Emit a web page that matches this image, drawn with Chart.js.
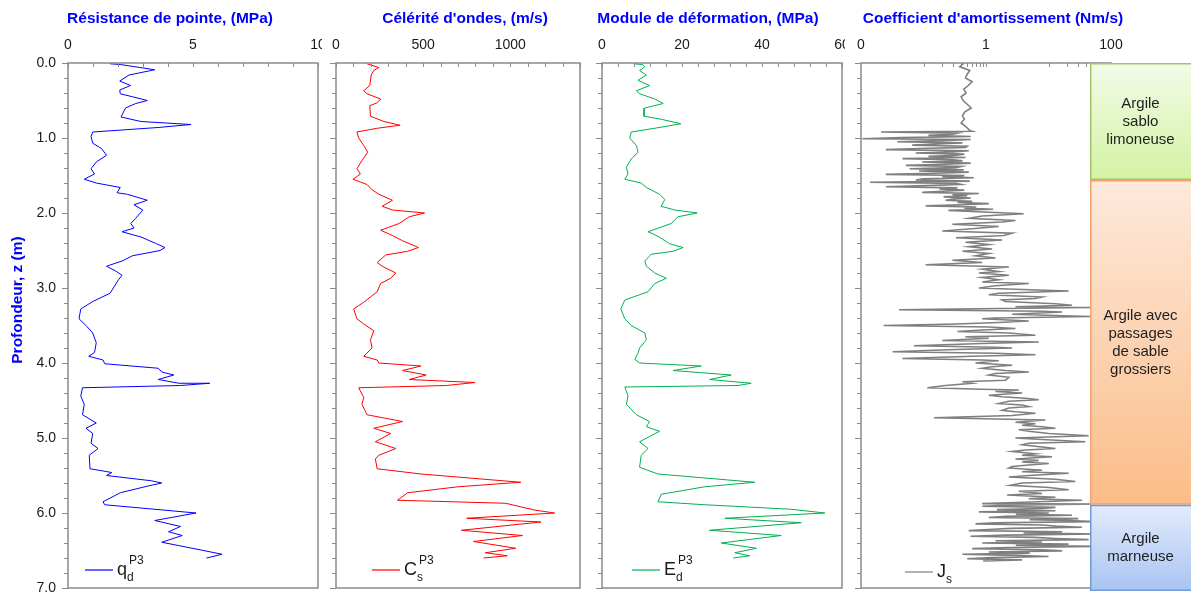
<!DOCTYPE html>
<html>
<head>
<meta charset="utf-8">
<script src="https://cdn.jsdelivr.net/npm/chart.js@4.4.0/dist/chart.umd.min.js"></script>
<style>
  body { margin: 0; background: #fff; width: 1191px; height: 595px; position: relative; overflow: hidden; }
  canvas { position: absolute; top: 0; }
</style>
</head>
<body>
<canvas id="c1" style="left:0px" width="322" height="595"></canvas>
<canvas id="c2" style="left:325px" width="258" height="595"></canvas>
<canvas id="c3" style="left:588px" width="257" height="595"></canvas>
<canvas id="c4" style="left:848px" width="343" height="595"></canvas>
<script>
/* global Chart */

// depth (m) / reading pairs at their turning points
const qDepth = [0.01, 0.02, 0.09, 0.16, 0.24, 0.30, 0.36, 0.41, 0.45, 0.50, 0.54, 0.60, 0.72, 0.78, 0.82, 0.86, 0.92, 0.98, 1.07, 1.14,
  1.23, 1.32, 1.41, 1.48, 1.55, 1.60, 1.66, 1.73, 1.75, 1.83, 1.89, 1.96, 2.07, 2.14, 2.20, 2.25, 2.32, 2.41, 2.46, 2.50,
  2.57, 2.64, 2.71, 2.77, 2.83, 2.89, 3.07, 3.18, 3.28, 3.41, 3.50, 3.60, 3.73, 3.86, 3.91, 3.96, 4.01, 4.07, 4.12, 4.16,
  4.22, 4.27, 4.27, 4.30, 4.33, 4.44, 4.55, 4.69, 4.80, 4.87, 4.94, 5.07, 5.14, 5.23, 5.41, 5.46, 5.50, 5.57, 5.60, 5.64,
  5.73, 5.85, 5.89, 6.00, 6.10, 6.18, 6.25, 6.30, 6.39, 6.48, 6.55, 6.60];
const qValue = [1.68, 2.09, 3.47, 2.44, 2.07, 2.50, 2.07, 2.09, 2.58, 3.17, 2.71, 2.30, 2.12, 2.92, 4.92, 3.60, 0.99, 0.92, 0.99, 1.34,
  1.54, 1.13, 0.92, 1.06, 0.65, 1.13, 2.09, 1.96, 2.37, 3.17, 2.64, 2.99, 2.71, 2.51, 2.64, 2.16, 2.92, 3.54, 3.88, 3.68,
  2.58, 2.16, 1.54, 1.89, 2.16, 2.02, 1.68, 0.99, 0.51, 0.44, 0.72, 0.99, 1.13, 1.06, 0.83, 1.40, 1.47, 3.61, 3.75, 4.23,
  3.61, 4.44, 5.67, 4.50, 0.58, 0.51, 0.65, 0.58, 1.13, 0.72, 0.99, 0.92, 1.20, 0.85, 0.88, 1.75, 1.54, 3.33, 3.75, 3.20,
  2.09, 1.40, 1.47, 5.12, 3.47, 4.50, 4.02, 4.57, 3.75, 5.12, 6.16, 5.54];

const csDepth = [0.01, 0.06, 0.10, 0.16, 0.30, 0.37, 0.41, 0.48, 0.53, 0.57, 0.71, 0.78, 0.83, 0.87, 0.92, 1.00, 1.10, 1.19, 1.30, 1.41,
  1.48, 1.55, 1.62, 1.69, 1.75, 1.83, 1.91, 1.96, 2.00, 2.05, 2.14, 2.23, 2.30, 2.37, 2.46, 2.51, 2.56, 2.66, 2.71, 2.80,
  2.87, 2.94, 3.05, 3.19, 3.28, 3.41, 3.48, 3.57, 3.69, 3.80, 3.91, 3.96, 4.00, 4.04, 4.10, 4.16, 4.22, 4.26, 4.30, 4.33,
  4.46, 4.55, 4.69, 4.78, 4.87, 4.94, 5.05, 5.14, 5.23, 5.28, 5.41, 5.48, 5.59, 5.65, 5.73, 5.83, 5.87, 5.96, 6.00, 6.07,
  6.12, 6.23, 6.30, 6.38, 6.47, 6.53, 6.57, 6.60];
const csValue = [178, 246, 217, 202, 194, 159, 178, 256, 236, 194, 198, 275, 368, 236, 120, 130, 159, 182, 149, 120,
  140, 97, 178, 207, 246, 324, 265, 324, 508, 420, 362, 256, 324, 382, 473, 411, 285, 236, 265, 343,
  314, 256, 236, 159, 101, 120, 159, 217, 198, 207, 159, 236, 246, 488, 382, 517, 420, 798, 634, 130,
  159, 149, 178, 382, 217, 314, 226, 343, 246, 226, 236, 488, 1060, 701, 411, 353, 973, 1138, 1254, 750,
  1176, 720, 1070, 789, 1031, 857, 983, 847];

const edDepth = [0.01, 0.02, 0.05, 0.10, 0.16, 0.23, 0.30, 0.37, 0.41, 0.48, 0.54, 0.60, 0.71, 0.75, 0.81, 0.87, 0.92, 1.00, 1.10, 1.19,
  1.28, 1.39, 1.48, 1.55, 1.60, 1.66, 1.75, 1.82, 1.91, 1.96, 2.00, 2.05, 2.14, 2.25, 2.31, 2.41, 2.46, 2.51, 2.55, 2.64,
  2.71, 2.80, 2.87, 2.94, 3.05, 3.16, 3.28, 3.41, 3.50, 3.60, 3.69, 3.80, 3.87, 3.95, 4.00, 4.04, 4.10, 4.16, 4.22, 4.27,
  4.30, 4.32, 4.44, 4.55, 4.69, 4.78, 4.85, 4.91, 5.05, 5.14, 5.23, 5.39, 5.48, 5.59, 5.65, 5.75, 5.85, 5.89, 5.95, 6.00,
  6.07, 6.13, 6.23, 6.30, 6.40, 6.47, 6.53, 6.57, 6.60];
const edValue = [7.8, 10.2, 10.7, 9.4, 11.1, 9.0, 11.9, 8.6, 9.4, 13.2, 15.3, 10.7, 10.5, 14.8, 19.7, 13.2, 7.3, 6.9, 8.6, 9.0,
  7.3, 6.1, 6.5, 5.7, 9.8, 11.1, 14.4, 15.7, 14.8, 18.2, 23.8, 19.0, 17.3, 11.5, 14.0, 16.9, 20.3, 17.8, 12.3, 10.7,
  11.1, 13.2, 16.1, 13.2, 11.5, 5.7, 4.7, 5.7, 7.3, 10.7, 11.1, 9.4, 9.0, 8.2, 9.4, 24.8, 17.8, 32.3, 26.9, 37.3,
  34.0, 5.7, 6.5, 6.1, 8.6, 11.9, 11.1, 14.4, 9.4, 11.5, 9.8, 9.4, 14.0, 38.2, 25.7, 14.8, 14.0, 25.7, 47.3, 55.7,
  30.7, 49.8, 26.9, 44.8, 29.8, 38.6, 33.2, 36.9, 32.8];

// damping coefficient, one line of depths then the matching line of readings
const jDepth = [
  0.00, 0.05, 0.10, 0.15, 0.20, 0.25, 0.30, 0.35, 0.40, 0.45,
  0.50, 0.55, 0.60, 0.65, 0.70, 0.75, 0.80, 0.85, 0.90,
  0.91, 0.92, 0.935, 0.95, 0.965, 0.98, 0.995, 1.01, 1.02, 1.035,
  1.05, 1.065, 1.08, 1.095, 1.11, 1.125, 1.14, 1.155, 1.17, 1.185,
  1.20, 1.215, 1.23, 1.245, 1.26, 1.275, 1.29, 1.305, 1.32, 1.335,
  1.35, 1.365, 1.38, 1.395, 1.41, 1.425, 1.44, 1.455, 1.47, 1.485,
  1.50, 1.515, 1.53, 1.545, 1.56, 1.575, 1.59, 1.605, 1.62, 1.635,
  1.65, 1.665, 1.68, 1.695, 1.71, 1.725, 1.74, 1.755, 1.77, 1.785,
  1.80, 1.815, 1.83, 1.845, 1.86, 1.875, 1.89, 1.905, 1.92, 1.935,
  1.95, 1.965, 1.98,
  2.01, 2.04, 2.07, 2.10, 2.12, 2.15, 2.18, 2.21, 2.24, 2.27,
  2.30, 2.33, 2.36, 2.39, 2.42, 2.45, 2.48, 2.51, 2.54, 2.57,
  2.60, 2.63, 2.66, 2.69, 2.72, 2.75, 2.78, 2.80, 2.83, 2.86,
  2.89, 2.92, 2.94, 2.97, 3.00, 3.02, 3.04, 3.07, 3.09, 3.12,
  3.14, 3.16, 3.18, 3.21, 3.23, 3.25, 3.26, 3.28, 3.29, 3.31,
  3.32, 3.35, 3.38, 3.40, 3.41, 3.44, 3.46, 3.48, 3.50, 3.52,
  3.54, 3.56, 3.58, 3.60, 3.63, 3.65, 3.67, 3.70, 3.72, 3.74,
  3.77, 3.79, 3.80, 3.82, 3.85, 3.87, 3.89, 3.91, 3.94, 3.96,
  3.97, 4.00, 4.03, 4.05, 4.07, 4.10, 4.12, 4.14, 4.16, 4.19,
  4.23, 4.25, 4.27, 4.30, 4.33, 4.35, 4.36, 4.38, 4.40, 4.43,
  4.45, 4.47, 4.49, 4.51, 4.54, 4.56, 4.58, 4.60, 4.63, 4.65,
  4.67, 4.70, 4.73, 4.76, 4.79, 4.81, 4.83, 4.85, 4.87, 4.89,
  4.91, 4.94, 4.97, 5.00, 5.02, 5.05, 5.07, 5.09, 5.12, 5.14,
  5.16, 5.18, 5.21, 5.23, 5.25, 5.28, 5.30, 5.32, 5.34, 5.36,
  5.38, 5.40, 5.43, 5.45, 5.47, 5.50, 5.52, 5.55, 5.58, 5.60,
  5.63, 5.66, 5.69, 5.71, 5.74, 5.76, 5.79, 5.81, 5.83,
  5.86, 5.875, 5.88, 5.895, 5.91, 5.925, 5.94, 5.955, 5.97, 5.985,
  6.00, 6.015, 6.03, 6.045, 6.06, 6.075, 6.09, 6.10, 6.115, 6.13,
  6.145, 6.16, 6.175, 6.19, 6.205, 6.22, 6.235, 6.25, 6.265, 6.28,
  6.295, 6.31, 6.325, 6.34, 6.355, 6.37, 6.385, 6.40, 6.415, 6.43,
  6.445, 6.46, 6.475, 6.49, 6.505, 6.52, 6.535, 6.55, 6.565, 6.58,
  6.595, 6.61, 6.625, 6.64];
const jValue = [
  0.45, 0.38, 0.55, 0.50, 0.47, 0.60, 0.52, 0.44, 0.48, 0.40,
  0.43, 0.50, 0.58, 0.46, 0.42, 0.45, 0.40, 0.48, 0.55,
  0.60, 0.021, 0.35, 0.29, 0.12, 0.57, 0.045, 0.0105, 0.57, 0.20,
  0.038, 0.42, 0.15, 0.066, 0.50, 0.47, 0.09, 0.025, 0.53, 0.30,
  0.075, 0.45, 0.33, 0.12, 0.47, 0.046, 0.30, 0.42, 0.095, 0.57,
  0.22, 0.052, 0.40, 0.33, 0.06, 0.44, 0.085, 0.53, 0.15, 0.025,
  0.45, 0.20, 0.64, 0.10, 0.075, 0.55, 0.014, 0.33, 0.40, 0.108,
  0.025, 0.35, 0.18, 0.45, 0.20, 0.095, 0.77, 0.29, 0.50, 0.21,
  0.57, 0.30, 0.225, 0.60, 0.35, 1.11, 0.40, 0.108, 0.70, 0.45,
  1.30, 0.25, 0.60,
  4.0, 0.87, 0.53, 2.96, 1.81, 0.29, 1.60, 0.60, 0.20, 2.62,
  1.93, 0.33, 1.81, 0.47, 1.11, 0.53, 1.25, 0.42, 1.11, 0.68,
  1.42, 0.29, 0.87, 0.108, 2.32, 0.87, 1.60, 0.77, 2.32, 0.87,
  1.60, 0.87, 4.83, 1.42, 0.77, 3.78, 21.0, 1.60, 1.11, 7.89,
  6.18, 1.81, 2.05, 12.9, 23.8, 2.96, 46.7, 0.33, 0.0405, 7.89,
  16.5, 2.62, 46.7, 1.42, 0.87, 4.83, 1.60, 0.33, 0.023, 1.11,
  2.96, 0.87, 0.35, 2.32, 6.18, 0.47, 1.11, 0.20, 6.98, 0.87,
  0.070, 1.42, 2.62, 0.33, 0.032, 1.42, 6.18, 0.60, 0.046, 0.87,
  1.60, 0.68, 2.62, 1.25, 0.87, 2.05, 4.83, 1.42, 1.11, 2.32,
  2.05, 0.42, 0.60, 0.225, 0.115, 0.87, 3.35, 1.42, 3.78, 1.11,
  1.81, 4.28, 6.98, 2.32, 1.60, 3.78, 4.83, 2.32, 1.81, 2.96,
  6.18, 2.62, 0.147, 8.92, 2.96, 6.18, 3.78, 7.89, 12.9, 3.35,
  4.83, 10.1, 43.9, 2.96, 7.89, 38.8, 4.83, 3.78, 7.89, 12.9,
  4.28, 2.62, 6.18, 3.78, 11.4, 2.96, 6.98, 3.78, 10.1, 4.83,
  2.62, 2.32, 7.89, 3.78, 21.0, 4.83, 2.32, 12.9, 26.9, 3.78,
  2.46, 10.1, 21.0, 3.35, 7.89, 2.18, 12.9, 4.83, 34.4,
  2.96, 0.87, 56.1, 2.32, 0.87, 12.9, 7.89, 1.5, 12.9, 0.77,
  10.1, 3.0, 23.8, 2.05, 1.11, 30.0, 5.0, 21.0, 56.1, 1.42,
  0.68, 8.0, 12.9, 34.4, 2.5, 1.11, 0.53, 16.5, 4.0, 56.1,
  2.05, 0.565, 6.0, 12.9, 43.9, 1.42, 7.89, 0.87, 21.0, 3.0,
  56.1, 2.32, 0.60, 7.89, 16.5, 1.11, 5.0, 0.42, 3.0, 10.0,
  1.2, 0.5, 3.78, 0.9];

// soil layers shown in the strip on the right
const layerNames = [['Argile', 'sablo', 'limoneuse'], ['Argile avec', 'passages', 'de sable', 'grossiers'], ['Argile', 'marneuse']];
const layerTop = [0, 1.56, 5.89];
const layerBottom = [1.56, 5.89, 7.04];

const depthLabels = ['0.0', '1.0', '2.0', '3.0', '4.0', '5.0', '6.0', '7.0'];

const FONT = '"Liberation Sans", Arial, sans-serif';

function toPoints(depths, values) {
  return depths.map(function (d, i) {
    return { x: values[i], y: d };
  });
}

function framePlugin(p) {
  return {
    id: 'frame',
    afterDraw: function (chart) {
      const ctx = chart.ctx;
      const a = chart.chartArea;
      const xs = chart.scales.x;
      const ys = chart.scales.y;
      ctx.save();

      /* depth ticks, outside the left edge */
      ctx.strokeStyle = '#8a8a8a';
      ctx.lineWidth = 1;
      for (let i = 0; i <= 35; i++) {
        const py = Math.round(ys.getPixelForValue(i * 0.2)) + 0.5;
        const len = i % 5 === 0 ? 6 : 4;
        ctx.beginPath();
        ctx.moveTo(a.left - len, py);
        ctx.lineTo(a.left, py);
        ctx.stroke();
      }
      /* minor ticks, inside the top edge */
      p.minorTicks.forEach(function (v) {
        const px = Math.round(xs.getPixelForValue(v)) + 0.5;
        ctx.beginPath();
        ctx.moveTo(px, a.top);
        ctx.lineTo(px, a.top + 4);
        ctx.stroke();
      });
      ctx.lineWidth = 1.5;
      ctx.strokeRect(a.left, a.top, a.right - a.left, a.bottom - a.top);

      /* tick labels along the top */
      ctx.fillStyle = '#1a1a1a';
      ctx.font = '14px ' + FONT;
      ctx.textAlign = 'center';
      ctx.textBaseline = 'middle';
      p.ticks.forEach(function (v, i) {
        ctx.fillText(p.tickLabels[i], xs.getPixelForValue(v), 45);
      });

      /* title */
      ctx.fillStyle = '#0000ff';
      ctx.font = 'bold 15.5px ' + FONT;
      ctx.fillText(p.title, p.titleX - p.left, 19);

      /* depth axis (first panel only) */
      if (p.depthAxis) {
        ctx.fillStyle = '#1a1a1a';
        ctx.font = '14px ' + FONT;
        ctx.textAlign = 'right';
        depthLabels.forEach(function (lab, i) {
          ctx.fillText(lab, 56, ys.getPixelForValue(i));
        });
        ctx.save();
        ctx.translate(18, 300);
        ctx.rotate(-Math.PI / 2);
        ctx.textAlign = 'center';
        ctx.fillStyle = '#0000ff';
        ctx.font = 'bold 15.5px ' + FONT;
        ctx.fillText('Profondeur, z (m)', 0, 0);
        ctx.restore();
      }

      /* soil layer strip (last panel only) */
      if (p.strip) {
        const sx0 = 1090 - p.left;
        const sx1 = chart.width;
        const fills = [['#f3fbe8', '#d3f2a3', '#a5c46a'], ['#fde9dc', '#fbbd88', '#f4a46b'], ['#e2ebfb', '#a9c4f2', '#6f9ad8']];
        layerNames.forEach(function (lines, i) {
          const top = ys.getPixelForValue(layerTop[i]);
          const bot = ys.getPixelForValue(layerBottom[i]);
          const g = ctx.createLinearGradient(0, top, 0, bot);
          g.addColorStop(0, fills[i][0]);
          g.addColorStop(1, fills[i][1]);
          ctx.fillStyle = g;
          ctx.fillRect(sx0, top, sx1 - sx0, bot - top);
          ctx.strokeStyle = fills[i][2];
          ctx.lineWidth = 1.5;
          ctx.strokeRect(sx0 + 0.75, top + 0.75, sx1 - sx0, bot - top - 1.5);
          ctx.fillStyle = '#1e1e1e';
          ctx.font = '15px ' + FONT;
          ctx.textAlign = 'center';
          ctx.textBaseline = 'middle';
          const mid = (top + bot) / 2;
          lines.forEach(function (t, k) {
            ctx.fillText(t, (sx0 + sx1) / 2, mid + (k - (lines.length - 1) / 2) * 18);
          });
        });
      }

      /* legend */
      const lx = p.legendX - p.left;
      ctx.strokeStyle = p.color;
      ctx.lineWidth = 1.2;
      ctx.beginPath();
      ctx.moveTo(lx, p.legendY);
      ctx.lineTo(lx + 28, p.legendY);
      ctx.stroke();
      ctx.fillStyle = '#1a1a1a';
      ctx.textAlign = 'left';
      ctx.textBaseline = 'alphabetic';
      ctx.font = '18px ' + FONT;
      const tx = lx + 32;
      ctx.fillText(p.sym[0], tx, p.legendY + 5);
      const w = ctx.measureText(p.sym[0]).width;
      ctx.font = '12px ' + FONT;
      ctx.fillText(p.sym[1], tx + w, p.legendY + 11);
      if (p.sym[2]) {
        ctx.fillText(p.sym[2], tx + w + 2, p.legendY - 6);
      }
      ctx.restore();
    }
  };
}

function makePanel(id, p) {
  return new Chart(document.getElementById(id), {
    type: 'scatter',
    data: {
      datasets: [{
        data: p.points,
        showLine: true,
        borderColor: p.color,
        borderWidth: p.lineWidth,
        pointRadius: 0,
        tension: 0
      }]
    },
    options: {
      responsive: false,
      animation: false,
      events: [],
      layout: { padding: { left: p.padLeft, right: p.padRight, top: 63, bottom: 7 } },
      plugins: { legend: { display: false }, tooltip: { enabled: false } },
      scales: {
        x: { type: p.log ? 'logarithmic' : 'linear', min: p.min, max: p.max, display: false },
        y: { type: 'linear', reverse: true, min: 0, max: 7, display: false }
      }
    },
    plugins: [framePlugin(p)]
  });
}

function steps(min, max, step) {
  const out = [];
  for (let v = min; v <= max + 1e-9; v += step) out.push(v);
  return out;
}

makePanel('c1', {
  points: toPoints(qDepth, qValue), color: '#0000ff', lineWidth: 1,
  min: 0, max: 10, left: 0, padLeft: 68, padRight: 4,
  minorTicks: steps(0, 10, 1), ticks: [0, 5, 10], tickLabels: ['0', '5', '10'],
  title: 'Résistance de pointe, (MPa)', titleX: 170,
  legendX: 85, legendY: 570, sym: ['q', 'd', 'P3'], depthAxis: true
});

makePanel('c2', {
  points: toPoints(csDepth, csValue), color: '#ff0000', lineWidth: 1,
  min: 0, max: 1400, left: 325, padLeft: 11, padRight: 3,
  minorTicks: steps(0, 1400, 100), ticks: [0, 500, 1000], tickLabels: ['0', '500', '1000'],
  title: 'Célérité d\'ondes, (m/s)', titleX: 465,
  legendX: 372, legendY: 570, sym: ['C', 's', 'P3']
});

makePanel('c3', {
  points: toPoints(edDepth, edValue), color: '#00b050', lineWidth: 1,
  min: 0, max: 60, left: 588, padLeft: 14, padRight: 3,
  minorTicks: steps(0, 60, 4), ticks: [0, 20, 40, 60], tickLabels: ['0', '20', '40', '60'],
  title: 'Module de déformation, (MPa)', titleX: 708,
  legendX: 632, legendY: 570, sym: ['E', 'd', 'P3']
});

makePanel('c4', {
  points: toPoints(jDepth, jValue), color: '#7f7f7f', lineWidth: 1.6, log: true,
  min: 0.01, max: 100, left: 848, padLeft: 13, padRight: 80,
  minorTicks: [0.1, 0.2, 0.3, 0.4, 0.5, 0.6, 0.7, 0.8, 0.9, 1, 10, 20, 30, 40],
  ticks: [0.01, 1, 100], tickLabels: ['0', '1', '100'],
  title: 'Coefficient d\'amortissement (Nm/s)', titleX: 993,
  legendX: 905, legendY: 572, sym: ['J', 's'], strip: true
});
</script>
</body>
</html>
